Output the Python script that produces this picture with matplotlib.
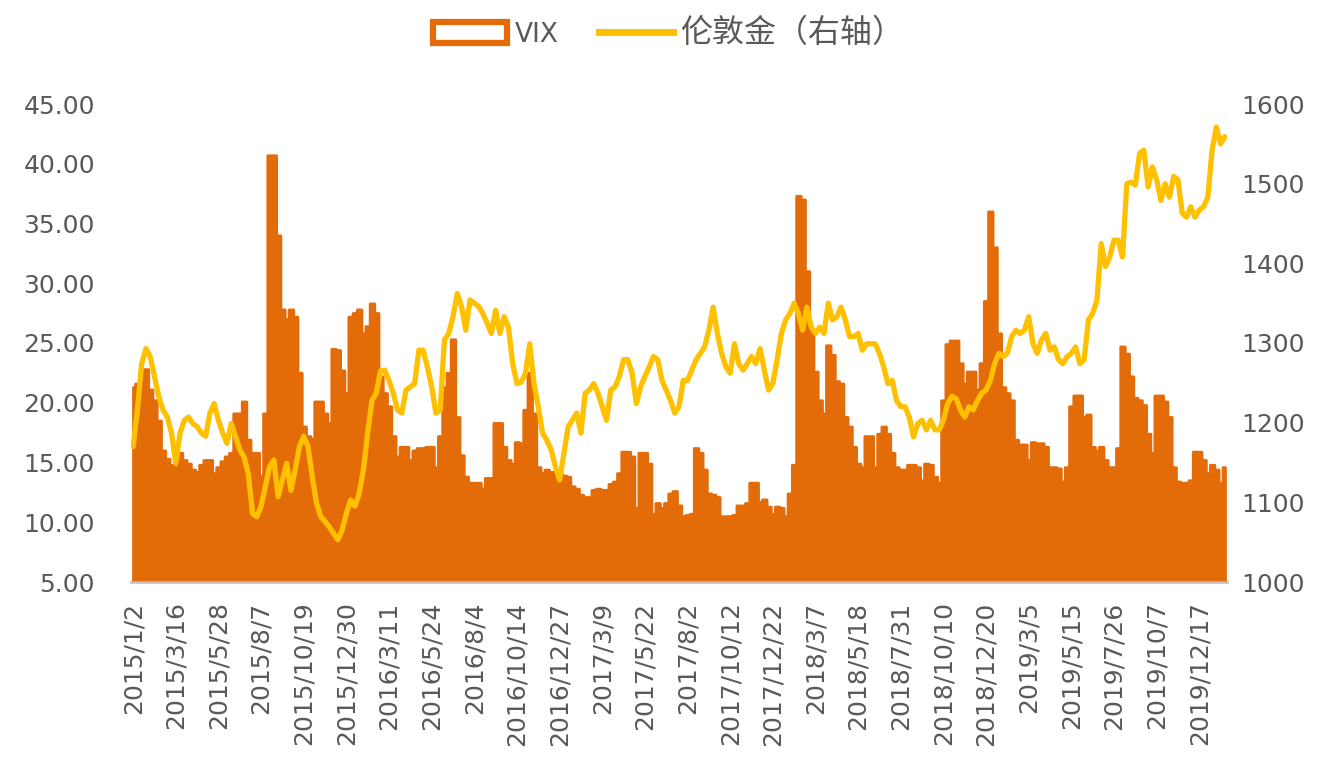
import matplotlib
matplotlib.use("Agg")
import matplotlib.pyplot as plt
from matplotlib.patches import Patch
from matplotlib.lines import Line2D
import numpy as np

plt.rcParams['font.family'] = ['DejaVu Sans', 'Noto Sans CJK SC']

# weekly samples (about every 5 trading days) from 2015/1/2
tick_labels = ["2015/1/2", "2015/3/16", "2015/5/28", "2015/8/7", "2015/10/19", "2015/12/30",
               "2016/3/11", "2016/5/24", "2016/8/4", "2016/10/14", "2016/12/27",
               "2017/3/9", "2017/5/22", "2017/8/2", "2017/10/12", "2017/12/22",
               "2018/3/7", "2018/5/18", "2018/7/31", "2018/10/10", "2018/12/20",
               "2019/3/5", "2019/5/15", "2019/7/26", "2019/10/7", "2019/12/17"]

vix = [
    21.3, 21.6, 22.2, 22.8, 21.1, 20.2, 18.5, 16.0, 15.3, 14.8,
    14.6, 15.8, 15.2, 14.9, 14.4, 14.2, 14.8, 15.2, 15.2, 14.1,
    14.6, 15.1, 15.5, 15.8, 19.1, 19.1, 20.1, 16.9, 15.8, 15.8,
    13.9, 19.1, 40.7, 40.7, 34.0, 27.8, 27.0, 27.8, 27.2, 22.5,
    18.0, 17.2, 17.0, 20.1, 20.1, 19.1, 18.3, 24.5, 24.4, 22.7,
    20.8, 27.2, 27.5, 27.8, 25.8, 26.4, 28.3, 27.5, 22.2, 20.8,
    19.7, 17.2, 15.5, 16.3, 16.3, 15.2, 16.0, 16.2, 16.2, 16.3,
    16.3, 14.6, 17.2, 21.3, 22.5, 25.3, 18.8, 15.6, 13.8, 13.3,
    13.3, 13.3, 12.8, 13.7, 13.7, 18.3, 18.3, 16.3, 15.2, 14.9,
    16.7, 16.6, 19.4, 22.5, 19.1, 14.6, 14.1, 14.4, 14.2, 14.1,
    14.1, 13.9, 13.8, 13.0, 12.8, 12.3, 12.1, 12.1, 12.7, 12.8,
    12.7, 12.7, 13.2, 13.4, 14.1, 15.9, 15.9, 15.5, 11.2, 15.8,
    15.8, 14.9, 10.7, 11.6, 11.2, 11.6, 12.4, 12.6, 11.4, 10.5,
    10.6, 10.7, 16.2, 15.8, 14.4, 12.4, 12.3, 12.1, 10.5, 10.5,
    10.5, 10.6, 11.4, 11.4, 11.6, 13.3, 13.3, 11.7, 11.9, 11.3,
    10.7, 11.3, 11.2, 10.5, 12.4, 14.8, 37.3, 37.0, 31.0, 25.8,
    22.6, 20.2, 19.1, 24.8, 24.0, 21.8, 21.6, 18.8, 18.0, 16.3,
    14.9, 14.6, 17.2, 17.2, 14.6, 17.4, 18.0, 17.4, 15.8, 14.6,
    14.4, 14.4, 14.8, 14.8, 14.6, 13.5, 14.9, 14.8, 13.8, 13.3,
    20.2, 24.9, 25.2, 25.2, 23.3, 21.6, 22.6, 22.6, 21.1, 23.3,
    28.5, 36.0, 33.0, 25.8, 21.3, 20.8, 20.2, 16.9, 16.5, 16.5,
    15.2, 16.7, 16.6, 16.6, 16.3, 14.6, 14.6, 14.5, 13.4, 14.6,
    19.7, 20.6, 20.6, 18.8, 19.0, 16.3, 16.0, 16.3, 15.2, 14.6,
    14.6, 16.2, 24.7, 24.1, 22.2, 20.4, 20.2, 19.8, 17.4, 15.8,
    20.6, 20.6, 20.1, 18.8, 14.6, 13.4, 13.3, 13.3, 13.5, 15.9,
    15.9, 15.2, 14.1, 14.8, 14.4, 13.3, 14.6]

gold = [
    1170, 1216, 1274, 1293, 1283, 1258, 1233, 1216, 1207, 1187,
    1149, 1187, 1203, 1207, 1199, 1195, 1187, 1183, 1212, 1224,
    1203, 1187, 1174, 1199, 1183, 1166, 1157, 1136, 1086, 1082,
    1095, 1120, 1145, 1153, 1107, 1128, 1149, 1115, 1141, 1170,
    1183, 1170, 1132, 1099, 1082, 1076, 1069, 1061, 1053, 1065,
    1086, 1103, 1095, 1111, 1141, 1187, 1228, 1237, 1265, 1266,
    1253, 1237, 1216, 1212, 1241, 1245, 1249, 1291, 1291, 1270,
    1245, 1212, 1216, 1304, 1312, 1333, 1362, 1346, 1316, 1354,
    1350, 1346, 1337, 1325, 1312, 1341, 1312, 1333, 1320, 1274,
    1249, 1251, 1262, 1299, 1249, 1220, 1187, 1178, 1166, 1145,
    1128, 1161, 1195, 1203, 1212, 1187, 1237, 1241, 1249, 1237,
    1220, 1203, 1241, 1245, 1258, 1279, 1279, 1262, 1224, 1245,
    1258, 1270, 1283, 1279, 1253, 1241, 1228, 1212, 1220, 1253,
    1253, 1266, 1279, 1287, 1295, 1316, 1345, 1312, 1287, 1270,
    1262, 1299, 1274, 1266, 1274, 1283, 1274, 1293, 1266, 1241,
    1249, 1279, 1312, 1329, 1337, 1350, 1337, 1316, 1345, 1320,
    1312, 1320, 1312, 1350, 1329, 1333, 1345, 1329, 1308, 1308,
    1312, 1291, 1299, 1299, 1299, 1287, 1270, 1249, 1253, 1228,
    1220, 1220, 1207, 1182, 1199, 1203, 1191, 1203, 1191, 1191,
    1203, 1224, 1233, 1230, 1216, 1207, 1220, 1216, 1228, 1237,
    1241, 1253, 1274, 1287, 1283, 1287, 1308, 1316, 1312, 1316,
    1333, 1299, 1287, 1304, 1312, 1291, 1295, 1279, 1274, 1283,
    1287, 1295, 1274, 1279, 1329, 1337, 1354, 1425, 1396, 1408,
    1429, 1429, 1408, 1500, 1502, 1498, 1538, 1542, 1496, 1521,
    1505, 1479, 1500, 1483, 1509, 1505, 1463, 1458, 1471, 1458,
    1467, 1471, 1483, 1542, 1571, 1550, 1559]

ORANGE = "#E36C09"
GOLD = "#FFC000"
TXT = "#595959"

x = np.arange(len(vix))

fig = plt.figure(figsize=(13.3, 7.72), dpi=100)
ax = fig.add_axes([131 / 1330, 1 - 582 / 772, (1227 - 131) / 1330, (582 - 104) / 772])
ax2 = ax.twinx()

ax.fill_between(x, 5, vix, step='mid', facecolor=ORANGE, edgecolor=ORANGE,
                linewidth=2.2, joinstyle='round', zorder=1)
ax2.plot(x, gold, color=GOLD, linewidth=3.8, solid_joinstyle='round',
         solid_capstyle='round', zorder=3)

ax.set_xlim(-0.5, len(vix) - 0.5)
ax.set_ylim(5, 45)
ax.set_yticks(np.arange(5, 46, 5))
ax.set_yticklabels([f"{v:.2f}" for v in np.arange(5, 46, 5)])
ax2.set_ylim(1000, 1600)
ax2.set_yticks(np.arange(1000, 1601, 100))

ax.set_xticks(np.arange(0, len(vix), 10)[:len(tick_labels)])
ax.set_xticklabels(tick_labels, rotation=90, va='top', ha='center')

for s in ['top', 'left', 'right']:
    ax.spines[s].set_visible(False)
for s in ['top', 'left', 'right', 'bottom']:
    ax2.spines[s].set_visible(False)
ax.spines['bottom'].set_color('#BFBFBF')
ax.spines['bottom'].set_linewidth(1.8)
ax.spines['bottom'].set_zorder(5)

ax.tick_params(axis='x', length=0, pad=14, labelsize=18, labelcolor=TXT)
ax.tick_params(axis='y', length=0, pad=26, labelsize=18, labelcolor=TXT)
ax2.tick_params(axis='y', length=0, pad=10, labelsize=18, labelcolor=TXT)

handles = [Patch(facecolor='white', edgecolor=ORANGE, linewidth=4.5),
           Line2D([0], [0], color=GOLD, linewidth=5)]
leg = fig.legend(handles, ["VIX", "伦敦金（右轴）"], loc='center', bbox_to_anchor=(0.503, 0.957),
                 ncol=2, frameon=False, fontsize=19, labelcolor=TXT,
                 handlelength=2.8, handleheight=0.8, handletextpad=0.3, columnspacing=1.5)
leg.get_texts()[1].set_fontsize(23)

fig.savefig("out.png", dpi=100, facecolor='white')
